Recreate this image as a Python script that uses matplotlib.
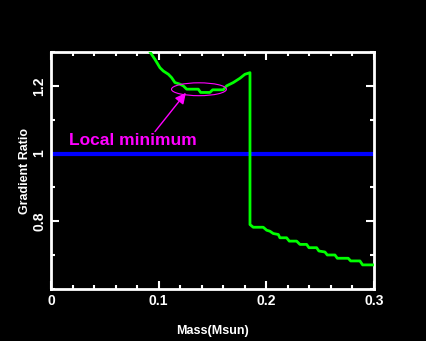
import matplotlib
matplotlib.use("Agg")
import matplotlib.pyplot as plt
from matplotlib.patches import Ellipse
from matplotlib.ticker import MultipleLocator

# gradient ratio vs mass
mass = [0.088, 0.0925, 0.0966, 0.1012, 0.1043, 0.1090, 0.1120, 0.1151, 0.1198,
        0.1229, 0.1260, 0.1368, 0.1390, 0.1476, 0.1501, 0.1600, 0.1631, 0.1693,
        0.1755, 0.1801, 0.1848, 0.1848, 0.1878, 0.1971, 0.2003, 0.2033, 0.2064,
        0.2111, 0.2126, 0.2188, 0.2213, 0.2281, 0.2312, 0.2374, 0.2396, 0.2467,
        0.2488, 0.2544, 0.2566, 0.2637, 0.2659, 0.2760, 0.2783, 0.2869, 0.2894,
        0.2993]
ratio = [1.32, 1.2975, 1.278, 1.2536, 1.2439, 1.2342, 1.2244, 1.2098, 1.2049,
         1.200, 1.1902, 1.1902, 1.1805, 1.1805, 1.1883, 1.1883, 1.200, 1.2098,
         1.2225, 1.2342, 1.239, 0.7903, 0.7824, 0.7824, 0.7736, 0.7707, 0.7639,
         0.7610, 0.7513, 0.7513, 0.7414, 0.7414, 0.7317, 0.7317, 0.7220, 0.7220,
         0.7122, 0.7093, 0.7005, 0.7005, 0.6908, 0.6908, 0.6829, 0.6829, 0.6712,
         0.6712]
ref_level = 1.0

fig = plt.figure(figsize=(4.26, 3.41), dpi=100, facecolor="black")
ax = fig.add_axes([0.1197, 0.1525, 0.7583, 0.695])
ax.set_facecolor("black")

ax.axhline(ref_level, color="#0000ff", lw=3, zorder=2)
ax.plot(mass, ratio, color="#00ff00", lw=2, zorder=3)

ax.add_patch(Ellipse((0.1374, 1.19), 0.051, 0.038, fill=False,
                     edgecolor="#ff00ff", lw=0.8, zorder=4))
ax.annotate("", xy=(0.1253, 1.1795), xytext=(0.0966, 1.065),
            arrowprops=dict(arrowstyle="-|>", color="#ff00ff", lw=1.0,
                            mutation_scale=16, shrinkA=0, shrinkB=0))
ax.text(0.0169, 1.0244, "Local minimum", color="#ff00ff", fontsize=12.5,
        fontweight="bold", family="Liberation Sans")

ax.set_xlim(0, 0.3)
ax.set_ylim(0.6, 1.3)
ax.xaxis.set_minor_locator(MultipleLocator(0.02))
ax.yaxis.set_minor_locator(MultipleLocator(0.1))
ax.set_xticks([0, 0.1, 0.2, 0.3])
ax.set_xticklabels(["0", "0.1", "0.2", "0.3"])
ax.set_yticks([0.8, 1.0, 1.2])
ax.set_yticklabels(["0.8", "1", "1.2"], rotation=90, va="center")

for s in ax.spines.values():
    s.set_color("white")
    s.set_linewidth(2)
ax.tick_params(which="both", direction="in", colors="white", top=True, right=True,
               width=1.5, labelsize=10)
ax.tick_params(which="major", length=6)
ax.tick_params(which="minor", length=3)
for lab in ax.get_xticklabels() + ax.get_yticklabels():
    lab.set_fontweight("bold")
    lab.set_family("Liberation Sans")

ax.set_xlabel("Mass(Msun)", color="white", fontsize=9, fontweight="bold",
              family="Liberation Sans", labelpad=12)
ax.set_ylabel("Gradient Ratio", color="white", fontsize=9, fontweight="bold",
              family="Liberation Sans", labelpad=1)

fig.savefig("out.png", dpi=100, facecolor="black")
